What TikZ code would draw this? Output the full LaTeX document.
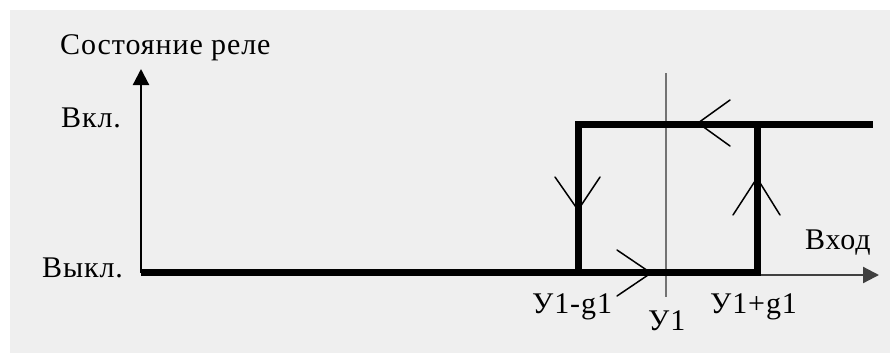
\documentclass[tikz,border=0pt]{standalone}
\usepackage{fontspec}
\setmainfont{Liberation Serif}[LetterSpace=3]
\usetikzlibrary{arrows.meta}
\tikzset{
  lbl/.style={inner sep=0pt, anchor=base west, font=\fontsize{30}{36}\selectfont},
  thickline/.style={line width=7pt, black},
  axisline/.style={line width=2.2pt, -{Triangle[length=16pt,width=16pt]}},
  vtip/.style={line width=1.5pt, black, line cap=round},
  guide/.style={line width=2pt, color=black!55}
}
\begin{document}
\begin{tikzpicture}[x=1pt,y=-1pt]
\useasboundingbox (0,0) rectangle (890,354);
\fill[white] (0,0) rectangle (890,354);
\fill[fill={rgb,255:red,239;green,239;blue,239}] (10,10) rectangle (890,353);

% coordinates
\coordinate (O) at (141,272.5);
\coordinate (Oax) at (141,275);
\coordinate (Ytip) at (141,69);
\coordinate (Xtip) at (879,275);
\coordinate (Lb) at (578,272.5);
\coordinate (Lt) at (578,124);
\coordinate (Rb) at (757,272.5);
\coordinate (Rt) at (757,124);
\coordinate (Te) at (873,124);
\coordinate (G1) at (666,73);
\coordinate (G2) at (666,297);

% guide line y1
\draw[guide] (G1) -- (G2);

% axes
\draw[axisline, black!75] (Oax) -- (Xtip);
\draw[axisline, black] (O) -- (Ytip);

% thick hysteresis loop
\draw[thickline] (O) -- (Rb) -- (Rt);
\draw[thickline] (Lb) -- (Lt) -- (Te);

% direction marks
\coordinate (a1) at (555,177); \coordinate (a2) at (578,210); \coordinate (a3) at (600,177);
\draw[vtip] (a1) -- (a2) -- (a3);
\coordinate (b1) at (733,215); \coordinate (b2) at (757,178); \coordinate (b3) at (780,215);
\draw[vtip] (b1) -- (b2) -- (b3);
\coordinate (c1) at (730,100); \coordinate (c2) at (698,123); \coordinate (c3) at (730,146);
\draw[vtip] (c1) -- (c2) -- (c3);
\coordinate (d1) at (617,250); \coordinate (d2) at (651,273); \coordinate (d3) at (617,296);
\draw[vtip] (d1) -- (d2) -- (d3);

% labels
\node[lbl] (ylab) at (60,54) {Состояние реле};
\node[lbl] (on) at (61,127) {Вкл.};
\node[lbl] (off) at (42,277) {Выкл.};
\node[lbl] (xlab) at (805,249) {Вход};
\node[lbl] (lo) at (532,313) {У1-g1};
\node[lbl] (mid) at (648,330) {У1};
\node[lbl] (hi) at (710,313) {У1+g1};
\end{tikzpicture}
\end{document}
